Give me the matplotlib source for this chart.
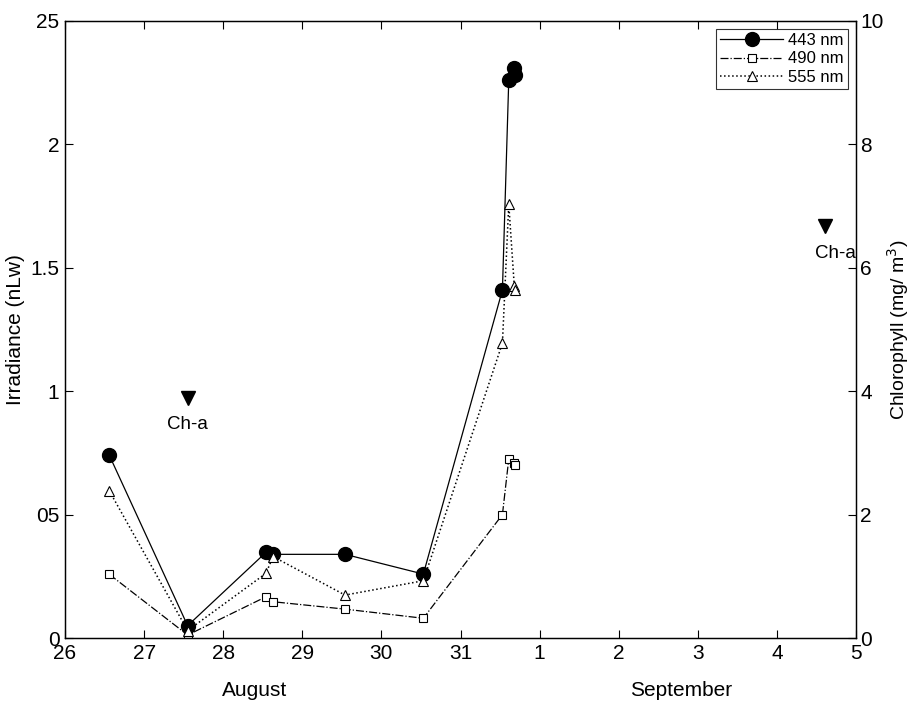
import matplotlib
matplotlib.use("Agg")
import matplotlib.pyplot as plt
import matplotlib.transforms as mtransforms

plt.rcParams['font.family'] = ['Liberation Sans', 'DejaVu Sans']

# days counted on from 26 August (32 = 1 September)
x_443 = [26.56, 27.55, 28.54, 28.63, 29.54, 30.53, 31.53, 31.61, 31.68, 31.69]
y_443 = [0.74, 0.05, 0.347, 0.339, 0.339, 0.259, 1.41, 2.26, 2.31, 2.28]

x_490 = [26.56, 27.55, 28.54, 28.63, 29.54, 30.53, 31.53, 31.61, 31.68, 31.69]
y_490 = [0.258, 0.012, 0.167, 0.147, 0.117, 0.080, 0.50, 0.725, 0.71, 0.70]

x_555 = [26.56, 27.55, 28.54, 28.63, 29.54, 30.53, 31.53, 31.61, 31.68, 31.69]
y_555 = [0.596, 0.03, 0.262, 0.33, 0.174, 0.232, 1.195, 1.758, 1.426, 1.41]

# chlorophyll-a samples (right axis)
chl_x = [27.55, 35.61]
chl_y = [3.89, 6.67]

x_ticks = [26, 27, 28, 29, 30, 31, 32, 33, 34, 35, 36]
x_labels = ['26', '27', '28', '29', '30', '31', '1', '2', '3', '4', '5']
y_ticks = [0, 0.5, 1, 1.5, 2, 2.5]
y_labels = ['0', '05', '1', '1.5', '2', '25']
chl_ticks = [0, 2, 4, 6, 8, 10]

fig = plt.figure(figsize=(9.11, 7.06), dpi=100)
ax = fig.add_axes([0.0714, 0.0963, 0.8682, 0.8740])
ax2 = ax.twinx()

ax.plot(x_443, y_443, '-', color='black', lw=0.9, marker='o', ms=10,
        mfc='black', mec='black', label='443 nm')
ax.plot(x_490, y_490, '-.', color='black', lw=0.9, marker='s', ms=5.5,
        mfc='white', mec='black', mew=0.8, label='490 nm')
ax.plot(x_555, y_555, ':', color='black', lw=1.1, marker='^', ms=7.5,
        mfc='white', mec='black', mew=0.8, label='555 nm')

ax2.plot(chl_x, chl_y, linestyle='none', marker='v', ms=10, color='black')
ax2.text(chl_x[0], chl_y[0] - 0.3, 'Ch-a', ha='center', va='top', fontsize=13.5)
ax2.text(36.0, chl_y[1] - 0.3, 'Ch-a', ha='right', va='top', fontsize=13.5)

ax.set_xlim(26, 36)
ax.set_ylim(0, 2.5)
ax2.set_ylim(0, 10)

ax.set_xticks(x_ticks)
ax.set_xticklabels(x_labels)
ax.set_yticks(y_ticks)
ax.set_yticklabels(y_labels)
ax2.set_yticks(chl_ticks)

ax.tick_params(axis='x', direction='in', top=True, labelsize=15, length=6, pad=4)
ax.tick_params(axis='y', direction='in', labelsize=15, length=6, pad=4)
ax2.tick_params(axis='y', direction='in', labelsize=15, length=6, pad=3)

ax.set_ylabel('Irradiance (nLw)', fontsize=15, labelpad=4)
ax2.set_ylabel('Chlorophyll (mg/ m$^3$)', fontsize=14, labelpad=1)

for a in (ax, ax2):
    for s in a.spines.values():
        s.set_linewidth(0.9)
        s.set_color('black')

trans = mtransforms.blended_transform_factory(ax.transData, ax.transAxes)
ax.text(28.4, -0.085, 'August', transform=trans, ha='center', va='center', fontsize=15)
ax.text(33.79, -0.085, 'September', transform=trans, ha='center', va='center', fontsize=15)

leg = ax.legend(loc='upper right', bbox_to_anchor=(0.99, 0.987), borderaxespad=0,
                fontsize=12, frameon=True, fancybox=False, handlelength=3.8,
                labelspacing=0.2, borderpad=0.25, handletextpad=0.3)
leg.get_frame().set_edgecolor('black')
leg.get_frame().set_linewidth(0.8)

fig.savefig('out.png', dpi=100)
